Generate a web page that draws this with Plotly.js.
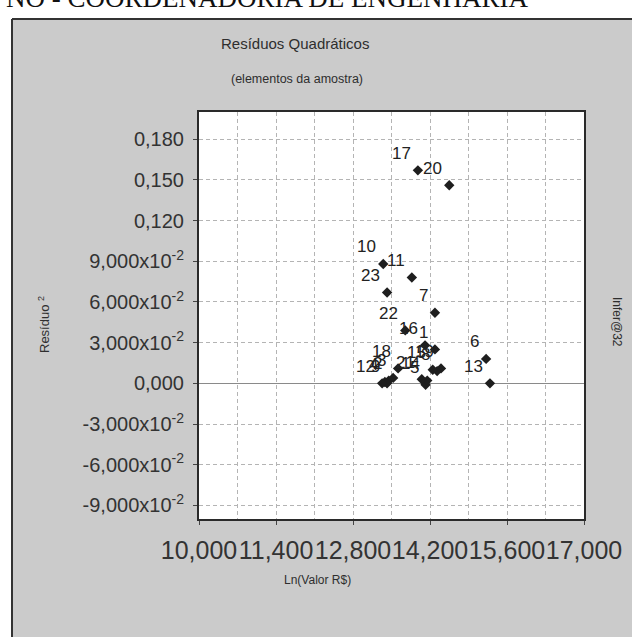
<!DOCTYPE html>
<html>
<head>
<meta charset="utf-8">
<script src="https://cdn.plot.ly/plotly-3.0.1.min.js"></script>
<style>
  html, body { margin: 0; padding: 0; background: #ffffff; overflow: hidden; }
  #chart { width: 632px; height: 637px; }
</style>
</head>
<body>
<div id="chart"></div>
<script>
// Sample elements: identifier, ln of value (R$) and squared residual
const sampleIds = ['1', '2', '3', '4', '5', '6', '7', '8', '9', '10', '11', '12',
                   '13', '14', '15', '16', '17', '18', '19', '20', '21', '22', '23'];
const lnValue = [14.29, 13.45, 13.53, 13.38, 14.12, 15.22, 14.29, 14.33, 13.42, 13.35, 13.87, 13.33,
                 15.29, 14.15, 14.25, 14.11, 13.98, 13.62, 14.40, 14.55, 14.05, 13.75, 13.42];
const residualSq = [0.025, 0.002, 0.004, 0.001, -0.001, 0.018, 0.052, 0.009, 0.000, 0.088, 0.078, 0.000,
                    0.000, 0.002, 0.010, 0.028, 0.157, 0.011, 0.011, 0.146, 0.003, 0.039, 0.067];

// Axis ticks
const xTickVals = [10, 11.4, 12.8, 14.2, 15.6, 17];
const xTickText = ['10,000', '11,400', '12,800', '14,200', '15,600', '17,000'];
const yTickVals = [-0.09, -0.06, -0.03, 0, 0.03, 0.06, 0.09, 0.12, 0.15, 0.18];
const yTickText = ['-9,000x10<sup>-2</sup>', '-6,000x10<sup>-2</sup>', '-3,000x10<sup>-2</sup>', '0,000',
                   '3,000x10<sup>-2</sup>', '6,000x10<sup>-2</sup>', '9,000x10<sup>-2</sup>',
                   '0,120', '0,150', '0,180'];

const SANS = 'Liberation Sans, Arial, sans-serif';
const INK = '#2e2e2e';
const GRID = '#b4b4b4';

const trace = {
  type: 'scatter',
  mode: 'markers',
  x: lnValue,
  y: residualSq,
  marker: { symbol: 'diamond', size: 8, color: '#1e1e1e', line: { width: 0 } },
  hoverinfo: 'x+y',
  showlegend: false
};

// Point labels sit up and to the left of each marker
const pointLabels = sampleIds.map((id, i) => ({
  x: lnValue[i], y: residualSq[i], xref: 'x', yref: 'y',
  text: id, showarrow: false,
  xanchor: 'right', yanchor: 'middle', xshift: -5, yshift: 17,
  font: { family: SANS, size: 17, color: '#222' }
}));

const frameText = [
  { text: 'NO - COORDENADORIA DE ENGENHARIA', xref: 'paper', yref: 'paper',
    x: (530 - 199) / 385, y: (519 - 15) / 407, xanchor: 'right', yanchor: 'bottom',
    showarrow: false, font: { family: 'Liberation Serif, Times New Roman, serif', size: 27, color: '#111' } },
  { text: 'Resíduos Quadráticos', xref: 'paper', yref: 'paper',
    x: (295 - 199) / 385, y: (519 - 43) / 407, xanchor: 'center', yanchor: 'middle',
    showarrow: false, font: { family: SANS, size: 15, color: INK } },
  { text: '(elementos da amostra)', xref: 'paper', yref: 'paper',
    x: (297 - 199) / 385, y: (519 - 79) / 407, xanchor: 'center', yanchor: 'middle',
    showarrow: false, font: { family: SANS, size: 12.5, color: INK } },
  { text: 'Ln(Valor R$)', xref: 'paper', yref: 'paper',
    x: (317 - 199) / 385, y: (519 - 580) / 407, xanchor: 'center', yanchor: 'middle',
    showarrow: false, font: { family: SANS, size: 12, color: INK } },
  { text: 'Resíduo <sup>2</sup>', xref: 'paper', yref: 'paper', textangle: -90,
    x: (44 - 199) / 385, y: (519 - 325) / 407, xanchor: 'center', yanchor: 'middle',
    showarrow: false, font: { family: SANS, size: 13, color: INK } },
  { text: 'Infer@32', xref: 'paper', yref: 'paper', textangle: 90,
    x: (617 - 199) / 385, y: (519 - 322) / 407, xanchor: 'center', yanchor: 'middle',
    showarrow: false, font: { family: SANS, size: 12, color: INK } }
];

const layout = {
  width: 632, height: 637,
  margin: { l: 199, r: 48, t: 112, b: 118, pad: 0 },
  paper_bgcolor: '#cbcbcb',
  plot_bgcolor: '#ffffff',
  showlegend: false,
  xaxis: {
    range: [10, 17], fixedrange: true,
    tickmode: 'array', tickvals: xTickVals, ticktext: xTickText, tickangle: 0,
    ticks: 'outside', ticklen: 4, tickcolor: '#444', ticklabelstandoff: 4,
    tickfont: { family: SANS, size: 25, color: '#333' },
    showgrid: true, gridcolor: GRID, griddash: '4px,3px', gridwidth: 1,
    minor: { tick0: 10, dtick: 0.7, showgrid: true, gridcolor: GRID, griddash: '4px,3px', gridwidth: 1, ticks: '' },
    showline: true, linecolor: '#2a2a2a', linewidth: 2, mirror: true,
    zeroline: false
  },
  yaxis: {
    range: [-0.1, 0.2], fixedrange: true,
    tickmode: 'array', tickvals: yTickVals, ticktext: yTickText,
    ticks: 'outside', ticklen: 4, tickcolor: '#444', ticklabelstandoff: 5,
    tickfont: { family: SANS, size: 20, color: '#333' },
    showgrid: true, gridcolor: GRID, griddash: '4px,3px', gridwidth: 1,
    showline: true, linecolor: '#2a2a2a', linewidth: 2, mirror: true,
    zeroline: true, zerolinecolor: '#8a8a8a', zerolinewidth: 1
  },
  shapes: [
    // page margin above and left of the panel
    { type: 'rect', xref: 'paper', yref: 'paper', layer: 'below',
      x0: -1, x1: 2, y0: (519 - 18) / 407, y1: 2, fillcolor: '#ffffff', line: { width: 0 } },
    { type: 'rect', xref: 'paper', yref: 'paper', layer: 'below',
      x0: -1, x1: (12 - 199) / 385, y0: -1, y1: 2, fillcolor: '#ffffff', line: { width: 0 } },
    // panel border
    { type: 'line', xref: 'paper', yref: 'paper', layer: 'below',
      x0: (12 - 199) / 385, x1: 2, y0: (519 - 19) / 407, y1: (519 - 19) / 407,
      line: { color: '#333', width: 2 } },
    { type: 'line', xref: 'paper', yref: 'paper', layer: 'below',
      x0: (12 - 199) / 385, x1: (12 - 199) / 385, y0: -1, y1: (519 - 19) / 407,
      line: { color: '#333', width: 2 } }
  ],
  annotations: frameText.concat(pointLabels)
};

Plotly.newPlot('chart', [trace], layout, { staticPlot: true, displayModeBar: false });
</script>
</body>
</html>
